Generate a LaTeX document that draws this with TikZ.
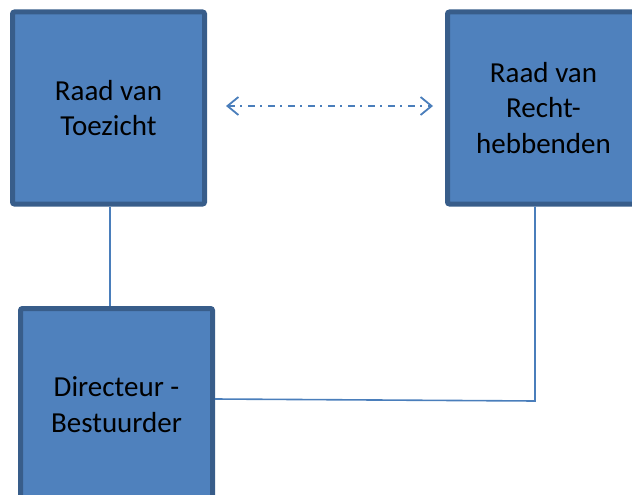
\documentclass[tikz,border=0pt]{standalone}
\usepackage{fontspec}
\setmainfont{Carlito}
\usetikzlibrary{arrows.meta}
\definecolor{boxfill}{HTML}{4F81BD}
\definecolor{boxline}{HTML}{385D8A}
\definecolor{conn}{HTML}{4A7EBB}
\begin{document}
\begin{tikzpicture}[x=1pt,y=-1pt,
  orgbox/.style={draw=boxline, fill=boxfill, line width=5pt, rounded corners=2pt,
    minimum width=192pt, minimum height=192pt, outer sep=auto, inner sep=0pt,
    align=center, font=\fontsize{29}{35.5}\selectfont, text=black},
  connline/.style={draw=conn, line width=1.6pt},
  relarrow/.style={draw=conn, line width=1.8pt, dash pattern=on 7pt off 5pt on 2pt off 6pt,
    {Straight Barb[length=11pt,width=18pt,line width=1.8pt]}-{Straight Barb[length=11pt,width=18pt,line width=1.8pt]}}
]
\useasboundingbox (0,0) rectangle (632,495);
\node[orgbox] (lt) at (108.5,108) {Raad van\\Toezicht};
\node[orgbox] (rt) at (543.5,108) {Raad van\\Recht-\\hebbenden};
\node[orgbox] (bt) at (116.5,404.5) {Directeur -\\Bestuurder};
\draw[connline] ([xshift=1.5pt]lt.south) -- ([xshift=1.5pt]lt.south |- bt.north);
\coordinate (corner) at ([xshift=-8.5pt]rt.south |- 0,401);
\draw[connline] ([xshift=-8.5pt]rt.south) -- (corner) -- ([yshift=5.5pt]bt.east);
\draw[relarrow] ([xshift=19pt,yshift=2pt]lt.east) -- ([xshift=-12pt,yshift=2pt]rt.west);
\end{tikzpicture}
\end{document}
